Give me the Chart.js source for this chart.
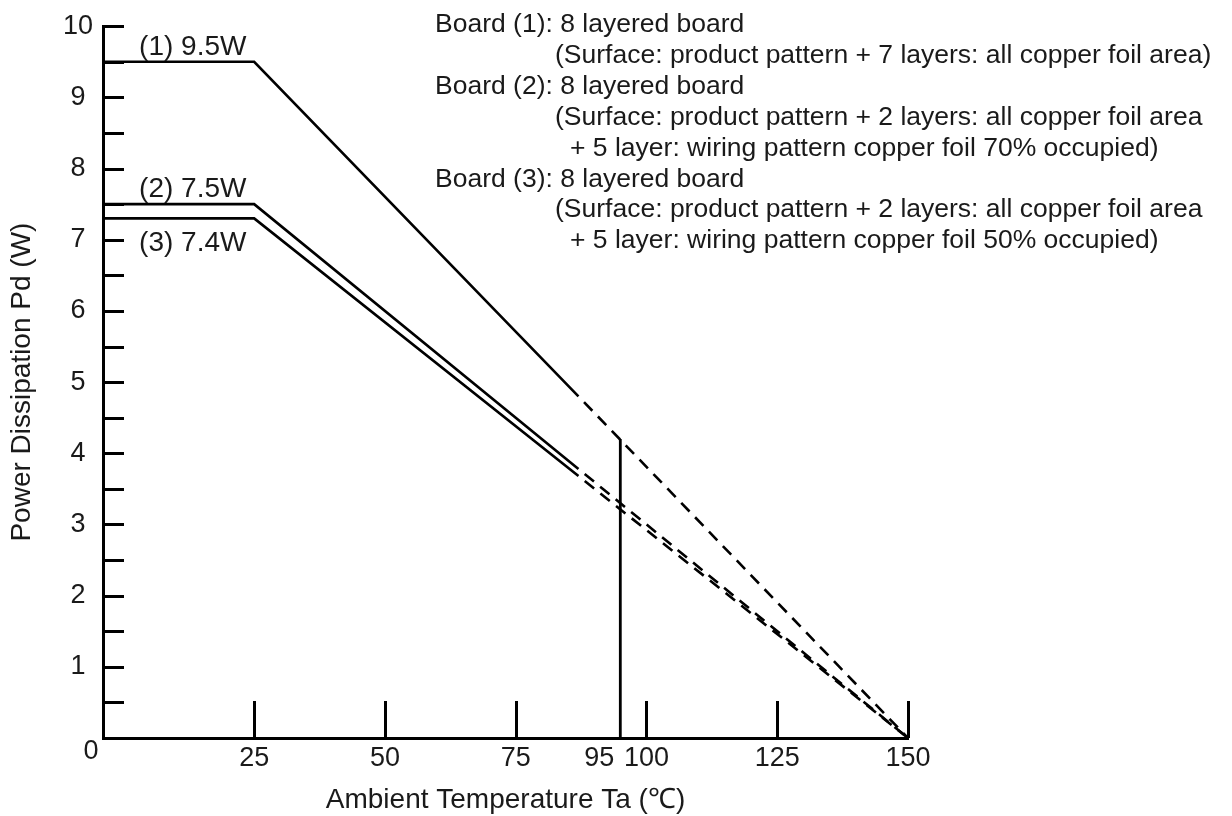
<!DOCTYPE html>
<html>
<head>
<meta charset="utf-8">
<title>Power Dissipation vs Ambient Temperature</title>
<script src="https://cdn.jsdelivr.net/npm/chart.js@4.4.1/dist/chart.umd.min.js"></script>
<style>
  html, body { margin: 0; padding: 0; background: #fff; }
  #wrap { width: 1232px; height: 816px; }
</style>
</head>
<body>
<div id="wrap"><canvas id="pd"></canvas></div>
<script>
// x axis starts a little left of 0, as in the original drawing
const X_MIN = -3.9;
const X_MAX = 150;
const DASH_FROM = 87; // solid part ends here, rest of each curve is dashed

// ambient temperature (°C) and power dissipation (W) per board
const ta = [X_MIN, 25, 87, 150];
const board1 = [9.5, 9.5, 4.8, 0];
const board2 = [7.5, 7.5, 3.78, 0];
const board3 = [7.3, 7.3, 3.68, 0];
const boardLabels = ['(1) 9.5W', '(2) 7.5W', '(3) 7.4W'];

// vertical marker at 95 °C
const markerTa = [95, 95];
const markerPd = [0, 4.2];
const markerLabel = '95';

const xTicks = [25, 50, 75, 100, 125, 150];
const yLabels = [1, 2, 3, 4, 5, 6, 7, 8, 9, 10];
const originLabel = '0';

const notes = [
  'Board (1): 8 layered board',
  '(Surface: product pattern + 7 layers: all copper foil area)',
  'Board (2): 8 layered board',
  '(Surface: product pattern + 2 layers: all copper foil area',
  '+ 5 layer: wiring pattern copper foil 70% occupied)',
  'Board (3): 8 layered board',
  '(Surface: product pattern + 2 layers: all copper foil area',
  '+ 5 layer: wiring pattern copper foil 50% occupied)'
];

const FONT = "'Liberation Sans', Arial, sans-serif";
const INK = '#1a1a1a';

function curve(values) {
  return {
    data: ta.map((t, i) => ({ x: t, y: values[i] })),
    showLine: true,
    borderColor: '#000',
    borderWidth: 2.6,
    pointRadius: 0,
    segment: {
      borderDash: ctx => ctx.p0.parsed.x >= DASH_FROM ? [12, 8] : undefined,
      borderDashOffset: ctx => ctx.p0.parsed.x >= DASH_FROM ? 12 : 0
    }
  };
}

// tick marks pointing into the plot, plus the free text
const extras = {
  id: 'extras',
  afterDraw(chart) {
    const { ctx, chartArea: area } = chart;
    const x = chart.scales.x, y = chart.scales.y;
    ctx.save();
    ctx.strokeStyle = '#000';
    ctx.lineWidth = 3;
    ctx.beginPath();
    y.ticks.forEach(t => {
      if (t.value === 0) return;
      const py = Math.round(y.getPixelForValue(t.value)) + 0.5;
      ctx.moveTo(area.left, py);
      ctx.lineTo(area.left + 21, py);
    });
    x.ticks.forEach(t => {
      const px = Math.round(x.getPixelForValue(t.value)) + 0.5;
      ctx.moveTo(px, area.bottom);
      ctx.lineTo(px, area.bottom - 37);
    });
    ctx.stroke();

    ctx.fillStyle = INK;
    ctx.font = '27px ' + FONT;
    ctx.textBaseline = 'middle';
    ctx.textAlign = 'center';
    ctx.fillText(originLabel, area.left - 12, area.bottom + 14);
    ctx.textAlign = 'right';
    ctx.fillText(markerLabel, x.getPixelForValue(95) - 6, area.bottom + 21);

    // curve labels
    ctx.font = '28px ' + FONT;
    ctx.textAlign = 'left';
    ctx.textBaseline = 'alphabetic';
    const lx = x.getPixelForValue(3);
    ctx.fillText(boardLabels[0], lx, y.getPixelForValue(board1[1]) - 7);
    ctx.fillText(boardLabels[1], lx, y.getPixelForValue(board2[1]) - 7);
    ctx.fillText(boardLabels[2], lx, y.getPixelForValue(board3[1]) + 33);

    // board notes, top right
    ctx.font = '26.5px ' + FONT;
    notes.forEach((line, i) => {
      let nx = 435;
      if (line[0] === '(') nx = 555;
      if (line[0] === '+') nx = 570;
      ctx.fillText(line, nx, 32 + i * 30.9);
    });
    ctx.restore();
  }
};

new Chart(document.getElementById('pd'), {
  type: 'scatter',
  data: {
    datasets: [
      curve(board1),
      curve(board2),
      curve(board3),
      {
        data: markerTa.map((t, i) => ({ x: t, y: markerPd[i] })),
        showLine: true,
        borderColor: '#000',
        borderWidth: 2.8,
        pointRadius: 0
      }
    ]
  },
  options: {
    responsive: true,
    maintainAspectRatio: false,
    animation: false,
    layout: { padding: { top: 21, right: 324, bottom: 0, left: 0 } },
    plugins: { legend: { display: false }, tooltip: { enabled: false } },
    scales: {
      x: {
        type: 'linear',
        min: X_MIN,
        max: X_MAX,
        grid: { display: false, drawTicks: false },
        border: { color: '#000', width: 3 },
        ticks: { autoSkip: false, maxRotation: 0, padding: 4, color: INK, font: { family: FONT, size: 27 } },
        afterBuildTicks: s => { s.ticks = xTicks.map(v => ({ value: v })); },
        afterFit: s => { s.height = 78; },
        title: {
          display: true,
          text: 'Ambient Temperature Ta (\u2103)',
          color: INK,
          font: { family: FONT, size: 28, lineHeight: 1 },
          padding: { top: 0, bottom: 2 }
        }
      },
      y: {
        type: 'linear',
        min: 0,
        max: 10,
        grid: { display: false, drawTicks: false },
        border: { color: '#000', width: 3 },
        ticks: {
          autoSkip: false,
          padding: 10,
          crossAlign: 'center',
          color: INK,
          font: { family: FONT, size: 27 },
          callback: v => yLabels.includes(v) ? String(v) : ''
        },
        afterBuildTicks: s => {
          const t = [];
          for (let v = 0; v <= 10; v += 0.5) t.push({ value: v });
          s.ticks = t;
        },
        afterFit: s => { s.width = 103; },
        title: {
          display: true,
          text: 'Power Dissipation Pd (W)',
          color: INK,
          font: { family: FONT, size: 28, lineHeight: 1 },
          padding: { top: 8, bottom: 0 }
        }
      }
    }
  },
  plugins: [extras]
});
</script>
</body>
</html>
